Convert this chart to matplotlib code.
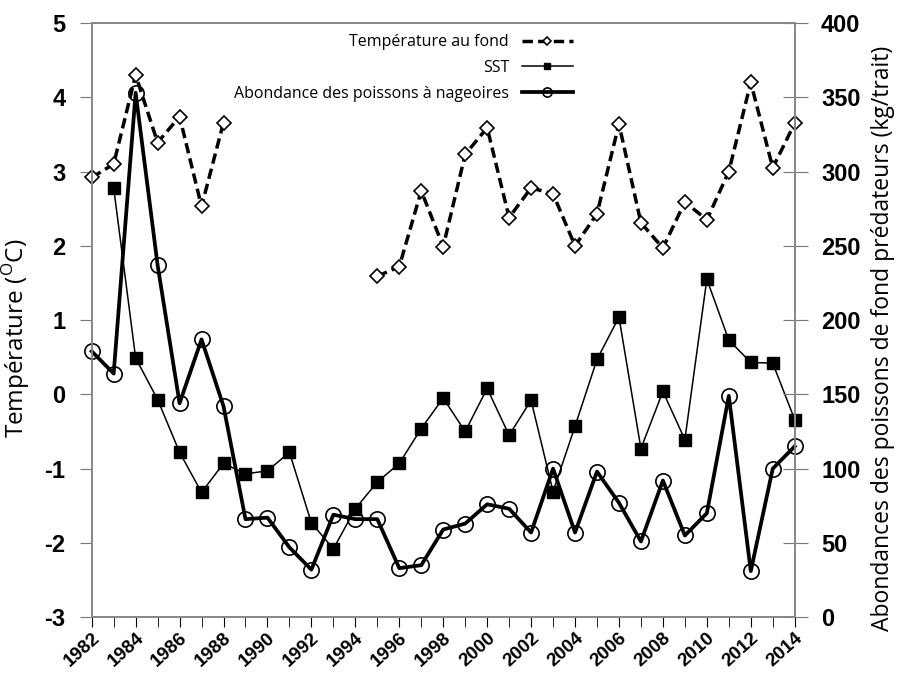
import numpy as np
import matplotlib
matplotlib.use("Agg")
import matplotlib.pyplot as plt

# Data
years = list(range(1982, 2015))

# bottom temperature (deg C), gap 1989-1994
temp_fond = [2.92, 3.1, 4.30, 3.39, 3.74, 2.53, 3.66,
             np.nan, np.nan, np.nan, np.nan, np.nan, np.nan,
             1.59, 1.72, 2.74, 1.99, 3.23, 3.59, 2.38, 2.78, 2.70,
             2.00, 2.43, 3.64, 2.31, 1.97, 2.59, 2.35, 3.00, 4.20, 3.05, 3.65]

# sea surface temperature anomaly (deg C), starts 1983
sst = [np.nan, 2.78, 0.49, -0.07, -0.78, -1.32, -0.93, -1.07, -1.03, -0.78,
       -1.73, -2.08, -1.54, -1.18, -0.93, -0.46, -0.05, -0.50, 0.08, -0.55,
       -0.08, -1.31, -0.43, 0.47, 1.04, -0.73, 0.04, -0.61, 1.55, 0.73,
       0.43, 0.42, -0.34]

# groundfish predator abundance (kg/trait)
abondance = [179, 164, 353, 237, 144, 187, 142, 66, 67, 47, 32, 69, 66, 66,
             33, 35, 59, 63, 76, 73, 57, 100, 57, 98, 77, 51, 92, 55, 70,
             149, 31, 100, 115]

left_ticks = [-3, -2, -1, 0, 1, 2, 3, 4, 5]
right_ticks = [0, 50, 100, 150, 200, 250, 300, 350, 400]
x_labels = list(range(1982, 2015, 2))

tick_font = {"family": "Liberation Sans", "weight": "bold"}
label_font = "Open Sans"

fig = plt.figure(figsize=(8.99, 6.76), dpi=100)
ax = fig.add_axes([0.102, 0.087, 0.782, 0.879])
ax2 = ax.twinx()

l1, = ax.plot(years, temp_fond, color="black", linestyle=(0, (3, 1.5)), lw=2.5,
              marker="D", markersize=7, markerfacecolor="white",
              markeredgecolor="black", markeredgewidth=1.2, clip_on=False,
              label="Température au fond")
l2, = ax.plot(years, sst, color="black", lw=1.1, marker="s", markersize=8,
              markerfacecolor="black", clip_on=False, label="SST")
l3, = ax2.plot(years, abondance, color="black", lw=2.7, marker="o",
               markersize=11, markerfacecolor="none", markeredgecolor="black",
               markeredgewidth=1.2, clip_on=False,
               label="Abondance des poissons à nageoires")

ax.set_xlim(1982, 2014)
ax.set_ylim(-3, 5)
ax2.set_ylim(0, 400)

ax.set_xticks(years, minor=True)
ax.set_xticks(x_labels)
ax.set_xticklabels([str(y) for y in x_labels], rotation=42, ha="right",
                   rotation_mode="anchor", fontsize=13.5, **tick_font)
ax.tick_params(axis="x", which="both", direction="out", length=7,
               color="black", pad=2)
ax.set_yticks(left_ticks)
ax.set_yticklabels([str(v) for v in left_ticks], fontsize=17, **tick_font)
ax.tick_params(axis="y", direction="out", length=9, color="#777777", pad=10)

ax2.set_yticks(right_ticks)
ax2.set_yticklabels([str(v) for v in right_ticks], fontsize=17, **tick_font)
ax2.tick_params(axis="y", direction="inout", length=18, color="#777777", pad=10)

for a in (ax, ax2):
    for s in a.spines.values():
        s.set_color("#888888")
        s.set_linewidth(1.3)

ax.set_ylabel("Température ($^{\\mathregular{O}}$C)", fontsize=17.5,
              family=label_font, labelpad=6)
ax2.set_ylabel("Abondances des poissons de fond prédateurs (kg/trait)",
               fontsize=16.5, family=label_font, labelpad=8)
ax2.yaxis.set_label_coords(1.108, 0.47)
ax.yaxis.set_label_coords(-0.085, 0.47)

leg = ax2.legend(handles=[l1, l2, l3], loc="upper right",
                 bbox_to_anchor=(0.705, 1.005), frameon=False,
                 markerfirst=False, handlelength=3.2, labelspacing=0.6,
                 prop={"family": label_font, "size": 11.5}, markerscale=0.6)

fig.savefig("out.png", dpi=100)
